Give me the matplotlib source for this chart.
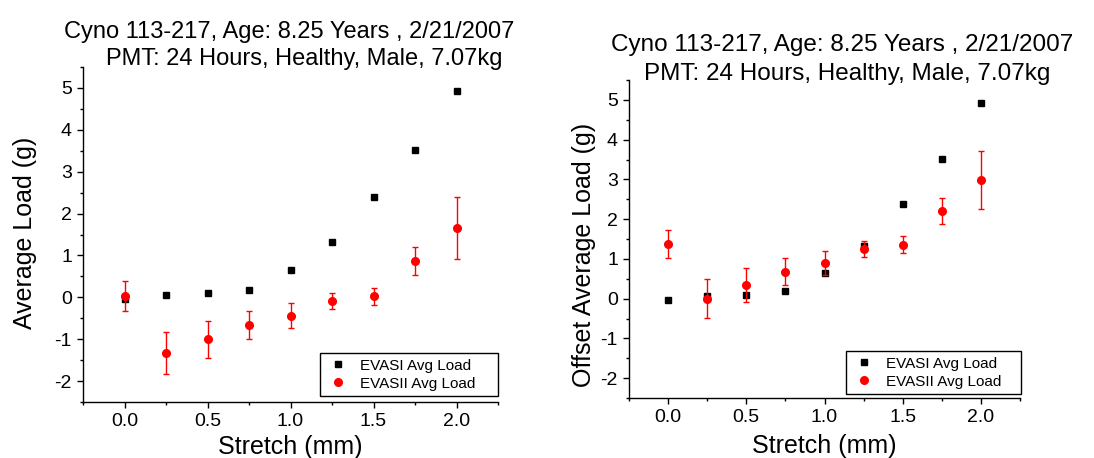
import numpy as np
import matplotlib
matplotlib.use('Agg')
import matplotlib.pyplot as plt
from matplotlib.lines import Line2D
from matplotlib.ticker import MultipleLocator

plt.rcParams['font.family'] = ['Liberation Sans', 'DejaVu Sans']

# Data
stretch = [0.0, 0.25, 0.5, 0.75, 1.0, 1.25, 1.5, 1.75, 2.0]
evasi_load = [-0.03, 0.06, 0.10, 0.18, 0.65, 1.33, 2.39, 3.51, 4.93]
evasii_load = [0.03, -1.34, -1.00, -0.66, -0.44, -0.09, 0.02, 0.86, 1.65]
evasii_err = [0.36, 0.50, 0.44, 0.34, 0.30, 0.20, 0.21, 0.33, 0.74]
evasii_offset = [1.37, 0.00, 0.34, 0.68, 0.90, 1.25, 1.36, 2.20, 2.99]
evasii_offset_err = [0.36, 0.49, 0.43, 0.34, 0.30, 0.20, 0.21, 0.33, 0.73]

title_1 = 'Cyno 113-217, Age: 8.25 Years , 2/21/2007'
title_2 = 'PMT: 24 Hours, Healthy, Male, 7.07kg'
labels = ['EVASI Avg Load', 'EVASII Avg Load']

W, H = 1094, 458
fig = plt.figure(figsize=(W / 100, H / 100), dpi=100)


def px_axes(x0, y0, x1, y1):
    # pixel box (left, top, right, bottom) -> figure fraction
    return fig.add_axes([x0 / W, 1 - y1 / H, (x1 - x0) / W, (y1 - y0) / H])


def draw_panel(ax, y2, y2err, ylabel, ylabel_xy, xlabel_y, legend_px):
    ax.plot(stretch, evasi_load, linestyle='none', marker='s', ms=5,
            color='black', zorder=3)
    ax.errorbar(stretch, y2, yerr=y2err, fmt='o', ms=5.5, color='red',
                ecolor='red', elinewidth=1, capsize=2.5, capthick=1, zorder=4)
    ax.set_xlim(-0.25, 2.25)
    ax.set_ylim(-2.5, 5.5)
    ax.xaxis.set_major_locator(MultipleLocator(0.5))
    ax.xaxis.set_minor_locator(MultipleLocator(0.25))
    ax.yaxis.set_major_locator(MultipleLocator(1))
    ax.yaxis.set_minor_locator(MultipleLocator(0.5))
    ax.xaxis.set_major_formatter(matplotlib.ticker.FormatStrFormatter('%.1f'))
    ax.yaxis.set_major_formatter(matplotlib.ticker.FuncFormatter(
        lambda v, p: f'{v:.0f}'))
    for s in ['top', 'right']:
        ax.spines[s].set_visible(False)
    for s in ['left', 'bottom']:
        ax.spines[s].set_linewidth(1.0)
    ax.tick_params(which='major', direction='out', length=4, width=1,
                   labelsize=14, pad=4)
    ax.tick_params(which='minor', direction='out', length=2.5, width=1)
    ax.set_xlabel('Stretch (mm)', fontsize=18)
    ax.set_ylabel(ylabel, fontsize=18)
    ax.yaxis.set_label_coords(*ylabel_xy)
    ax.xaxis.set_label_coords(0.5, xlabel_y)

    handles = [Line2D([], [], linestyle='none', marker='s', ms=5, color='black'),
               Line2D([], [], linestyle='none', marker='o', ms=5.5, color='red')]
    x0, y0, x1, y1 = legend_px
    box = (x0 / W, 1 - y1 / H, (x1 - x0) / W, (y1 - y0) / H)
    leg = ax.legend(handles, labels, loc='lower left', mode='expand',
                    bbox_to_anchor=box, bbox_transform=fig.transFigure,
                    fontsize=11, frameon=True, fancybox=False, edgecolor='black',
                    framealpha=1, handletextpad=0.6, borderpad=0.35,
                    labelspacing=0.25, handlelength=1.7, borderaxespad=0)
    leg.get_frame().set_linewidth(1.0)


ax1 = px_axes(83, 67, 498, 402)
draw_panel(ax1, evasii_load, evasii_err, 'Average Load (g)',
           (-0.111, 0.505), -0.099, (320, 357, 498, 396))
ax2 = px_axes(629, 80, 1020, 398)
draw_panel(ax2, evasii_offset, evasii_offset_err, 'Offset Average Load (g)',
           (-0.084, 0.45), -0.113, (846, 353, 1021, 394))

fig.text(289 / W, 1 - 32 / H, title_1, fontsize=17, ha='center', va='center')
fig.text(304 / W, 1 - 59 / H, title_2, fontsize=17, ha='center', va='center')
fig.text(842 / W, 1 - 45 / H, title_1, fontsize=17.5, ha='center', va='center')
fig.text(847 / W, 1 - 74 / H, title_2, fontsize=17.5, ha='center', va='center')

fig.savefig('out.png', dpi=100)
